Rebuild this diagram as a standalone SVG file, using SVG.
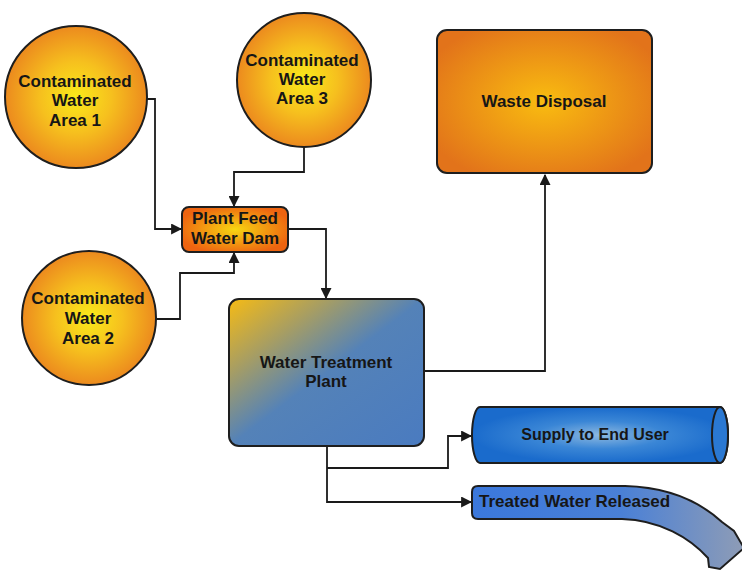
<svg xmlns="http://www.w3.org/2000/svg" width="742" height="574" viewBox="0 0 742 574">
<style>
.lbl{font-family:"Liberation Sans",Arial,sans-serif;font-weight:bold;font-size:17px;fill:#161616;text-anchor:middle}
.edge{fill:none;stroke:#1a1a1a;stroke-width:1.8}
.shape{stroke:#1e1e1e;stroke-width:2}
</style>
<defs>
<radialGradient id="gCircle" cx="0.5" cy="0.5" r="0.5">
<stop offset="0" stop-color="#faea1a"/>
<stop offset="0.5" stop-color="#f6c01e"/>
<stop offset="1" stop-color="#ec8a1e"/>
</radialGradient>
<radialGradient id="gFeed" cx="0.5" cy="0.5" r="0.55">
<stop offset="0" stop-color="#f7d612"/>
<stop offset="1" stop-color="#ee6410"/>
</radialGradient>
<radialGradient id="gWaste" cx="0.5" cy="0.5" r="0.6">
<stop offset="0" stop-color="#f9bc10"/>
<stop offset="1" stop-color="#e2731a"/>
</radialGradient>
<linearGradient id="gWtp" x1="0" y1="0" x2="1" y2="1">
<stop offset="0" stop-color="#f6bb14"/>
<stop offset="0.25" stop-color="#a89e62"/>
<stop offset="0.5" stop-color="#5482b8"/>
<stop offset="1" stop-color="#4a7bc0"/>
</linearGradient>
<radialGradient id="gCyl" cx="0.5" cy="0.5" r="0.5">
<stop offset="0" stop-color="#8cb8e0"/>
<stop offset="0.5" stop-color="#3a86d6"/>
<stop offset="1" stop-color="#1a6bcc"/>
</radialGradient>
<linearGradient id="gRel" x1="0" y1="0" x2="1" y2="0">
<stop offset="0" stop-color="#3b78dc"/>
<stop offset="0.55" stop-color="#4a80d6"/>
<stop offset="1" stop-color="#8e9cb6"/>
</linearGradient>
<marker id="arr" viewBox="0 0 10 10" refX="9" refY="5" markerWidth="11" markerHeight="11" markerUnits="userSpaceOnUse" orient="auto">
<path d="M0,0 L10,5 L0,10 Z" fill="#1a1a1a"/>
</marker>
</defs>
<rect width="742" height="574" fill="#ffffff"/>

<g id="connectors">
<path class="edge" d="M147,99 H155 V229 H181" marker-end="url(#arr)"/>
<path class="edge" d="M304,146 V172 H234 V206" marker-end="url(#arr)"/>
<path class="edge" d="M156,319 H180 V273 H234 V253" marker-end="url(#arr)"/>
<path class="edge" d="M288,229 H326 V298" marker-end="url(#arr)"/>
<path class="edge" d="M424,371 H545 V175" marker-end="url(#arr)"/>
<path class="edge" d="M327,446 V502 H471" marker-end="url(#arr)"/>
<path class="edge" d="M327,468 H448 V436 H471" marker-end="url(#arr)"/>
</g>

<g id="area1">
<circle class="shape" cx="76" cy="97" r="71" fill="url(#gCircle)"/>
<text class="lbl" x="75" y="87">Contaminated</text>
<text class="lbl" x="75" y="106">Water</text>
<text class="lbl" x="75" y="126">Area 1</text>
</g>

<g id="area3">
<circle class="shape" cx="304" cy="80" r="67" fill="url(#gCircle)"/>
<text class="lbl" x="302" y="66">Contaminated</text>
<text class="lbl" x="302" y="85">Water</text>
<text class="lbl" x="302" y="104">Area 3</text>
</g>

<g id="area2">
<circle class="shape" cx="89" cy="318" r="67" fill="url(#gCircle)"/>
<text class="lbl" x="88" y="304">Contaminated</text>
<text class="lbl" x="88" y="324">Water</text>
<text class="lbl" x="88" y="344">Area 2</text>
</g>

<g id="feed">
<rect class="shape" x="182" y="207" width="106" height="45" rx="7" fill="url(#gFeed)"/>
<text class="lbl" x="235" y="224">Plant Feed</text>
<text class="lbl" x="235" y="244">Water Dam</text>
</g>

<g id="waste">
<rect class="shape" x="437" y="30" width="215" height="143" rx="10" fill="url(#gWaste)"/>
<text class="lbl" x="544" y="107">Waste Disposal</text>
</g>

<g id="wtp">
<rect class="shape" x="229" y="299" width="195" height="147" rx="10" fill="url(#gWtp)"/>
<text class="lbl" x="326" y="368">Water Treatment</text>
<text class="lbl" x="326" y="387">Plant</text>
</g>

<g id="supply">
<path class="shape" d="M480,407 H720 A8,28 0 0 1 720,463 H480 A8,28 0 0 1 480,407 Z" fill="url(#gCyl)"/>
<ellipse class="shape" cx="720" cy="435" rx="8" ry="28" fill="#2a78d2"/>
<text class="lbl" x="595" y="440" style="font-size:16px">Supply to End User</text>
</g>

<g id="released">
<path class="shape" d="M478,486 H625 C665,487 698,500 722,522 L734,531 L744,548 L720,569 L709,567 L708,558 C690,538 660,520 622,519 H478 Q472,519 472,513 V492 Q472,486 478,486 Z" fill="url(#gRel)"/>
<text class="lbl" x="479" y="507" style="text-anchor:start">Treated Water Released</text>
</g>
</svg>
